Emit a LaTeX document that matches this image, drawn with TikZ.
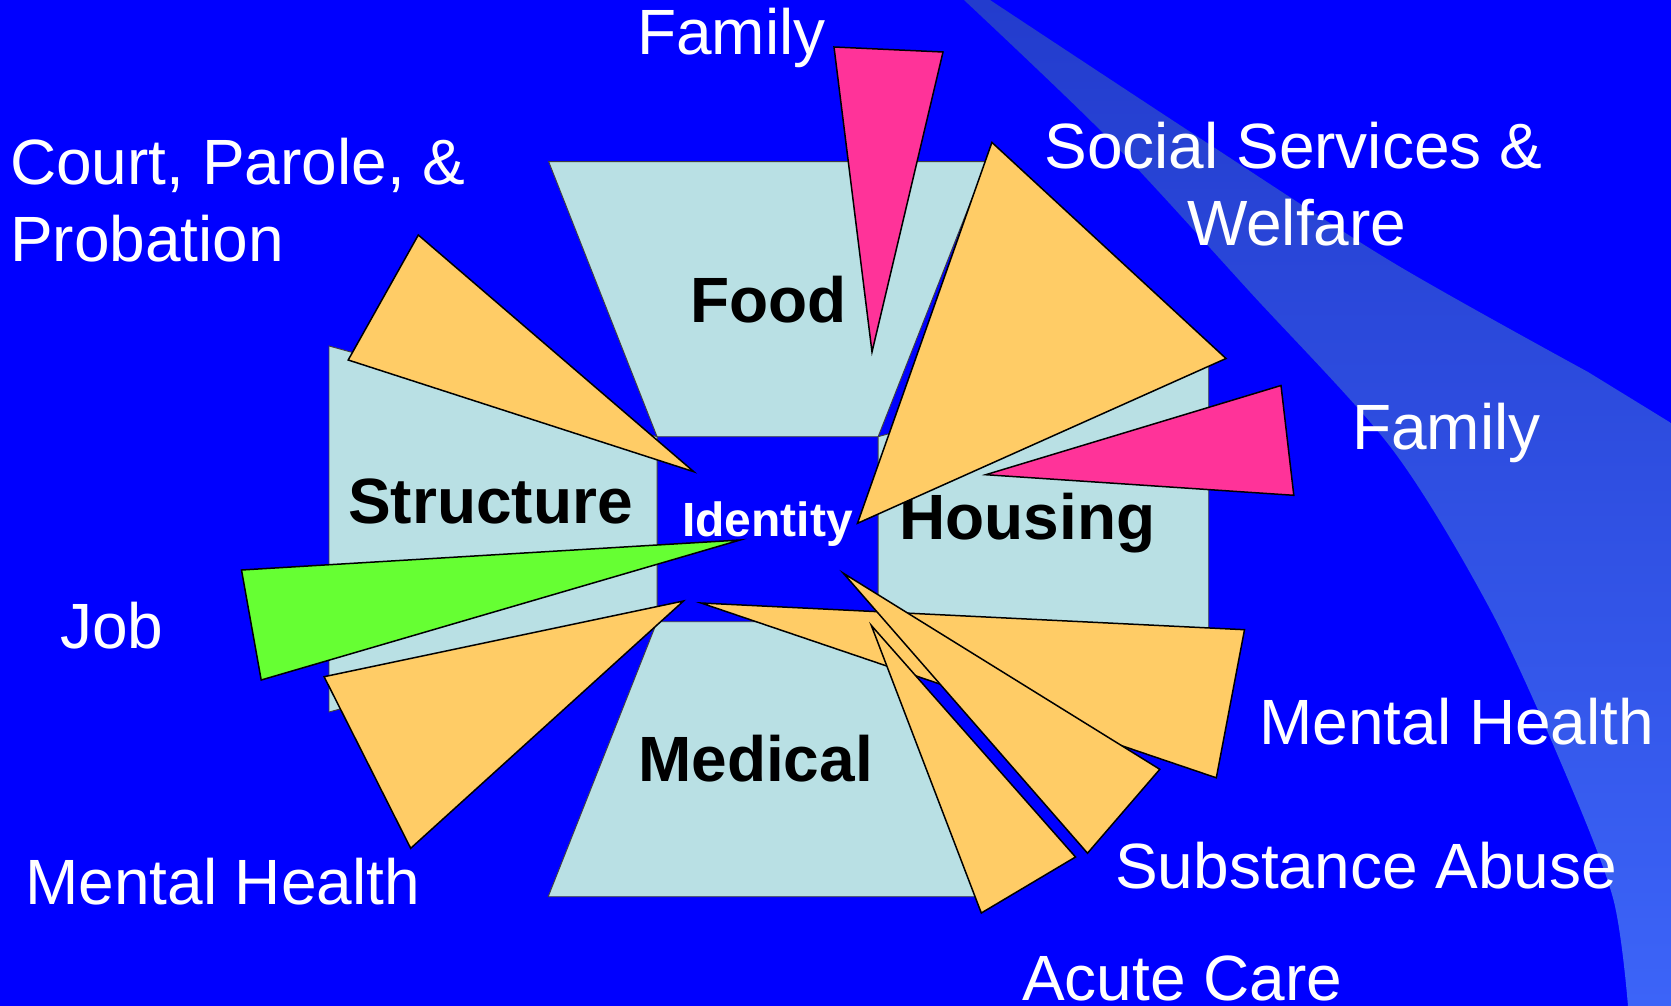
\documentclass[tikz,border=0pt]{standalone}
\usepackage{fontspec}
\setmainfont{Liberation Sans}
\definecolor{bg}{RGB}{0,0,255}
\definecolor{boxc}{RGB}{185,224,228}
\definecolor{orng}{RGB}{255,204,102}
\definecolor{pnk}{RGB}{255,51,153}
\definecolor{grn}{RGB}{102,255,51}
\definecolor{swtop}{RGB}{35,60,205}
\definecolor{swbot}{RGB}{60,100,248}
\begin{document}
\begin{tikzpicture}[x=1pt,y=-1pt,
  lbl/.style={text=white,font=\fontsize{64}{76}\selectfont,inner sep=0,anchor=base west},
  area/.style={text=black,font=\fontsize{64}{76}\selectfont\bfseries,inner sep=0,anchor=base west},
  box/.style={fill=boxc,draw=black!75,line width=0.9pt},
  wedge/.style={draw=black,line width=1.5pt,line join=miter}]
\useasboundingbox (0,0) rectangle (1671,1006);
\fill[bg] (0,0) rectangle (1671,1006);
% background swoosh
\shade[top color=swtop,bottom color=swbot]
  plot[smooth] coordinates {(964,0) (1110,140) (1250,292) (1392,449) (1490,609) (1564,770) (1613,898) (1628,1006)}
  -- (1671,1006) -- (1671,423)
  -- plot[smooth] coordinates {(1588,372) (1392,262) (1195,135) (990,0)} -- cycle;
% boxes
\draw[box] (548.7,161.7) -- (986.5,161.7) -- (878.1,436.7) -- (657.1,436.7) -- cycle;
\draw[box] (329,346) -- (657.1,436.7) -- (657.1,621.7) -- (329,712) -- cycle;
\draw[box] (1208.7,346) -- (878.1,436.7) -- (878.1,621.7) -- (1208.7,712) -- cycle;
\draw[box] (657.1,621.7) -- (878.1,621.7) -- (987,896.7) -- (548.2,896.7) -- cycle;
% area labels
\node[area] (food) at (690,322.7) {Food};
\node[area] (structure) at (348,523.3) {Structure};
\node[area] (housing) at (899,539.7) {Housing};
\node[area] (medical) at (638,781.7) {Medical};
% wedges
\draw[wedge,fill=orng] (418.3,235) -- (348.2,360) -- (693.8,471.7) -- cycle;
\draw[wedge,fill=pnk] (834,47) -- (943,52) -- (872,352) -- cycle;
\draw[wedge,fill=orng] (991.9,142.4) -- (1226,358.5) -- (857.5,523.3) -- cycle;
\draw[wedge,fill=pnk] (1281,385.5) -- (1293.8,495.3) -- (985.8,474.7) -- cycle;
\draw[wedge,fill=grn] (740.2,540) -- (241.5,570) -- (261.2,680) -- cycle;
\draw[wedge,fill=orng] (683.5,601) -- (324.1,676.7) -- (410.7,848.3) -- cycle;
\draw[wedge,fill=orng] (701,603) -- (1244.5,629.7) -- (1216.3,777.8) -- cycle;
\draw[wedge,fill=orng] (843.3,573.2) -- (1159.8,769.3) -- (1087.5,853.2) -- cycle;
\draw[wedge,fill=orng] (871.3,625.4) -- (1075.5,857) -- (981.3,913) -- cycle;
% centre label
\node[text=white,font=\fontsize{48}{56}\selectfont\bfseries,inner sep=0,anchor=base west] (identity) at (682,536) {Identity};
% outer labels
\node[lbl] (famtop) at (637,55) {Family};
\node[lbl] (court1) at (10,185) {Court, Parole, \&};
\node[lbl] (court2) at (10,261.7) {Probation};
\node[lbl,anchor=base] (social1) at (1293.3,168.3) {Social Services \&};
\node[lbl,anchor=base] (social2) at (1296.7,245) {Welfare};
\node[lbl] (famright) at (1352,449) {Family};
\node[lbl] (job) at (60,648.3) {Job};
\node[lbl] (mhright) at (1259,744) {Mental Health};
\node[lbl] (subst) at (1115,888) {Substance Abuse};
\node[lbl] (acute) at (1022,1000) {Acute Care};
\node[lbl] (mhleft) at (25,904) {Mental Health};
\end{tikzpicture}
\end{document}
